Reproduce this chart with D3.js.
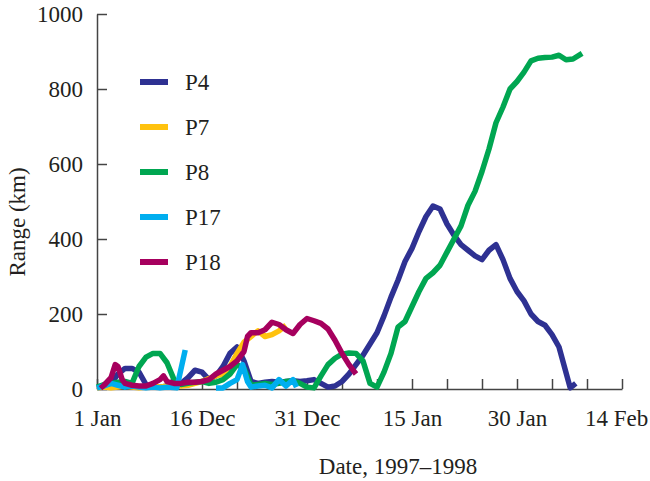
<!DOCTYPE html>
<html>
<head>
<meta charset="utf-8">
<script src="https://cdn.jsdelivr.net/npm/d3@7"></script>
<style>
  body { margin: 0; background: #fff; }
  svg text { font-family: "Liberation Serif", "Times New Roman", serif; fill: #231f20; }
</style>
</head>
<body>
<svg id="chart"></svg>
<script>
// x values are days counted from the first tick on the date axis
const xTickValues = [0, 15, 30, 45, 60, 75];
const xTickLabels = ["1 Jan", "16 Dec", "31 Dec", "15 Jan", "30 Jan", "14 Feb"];
const yTickValues = [0, 200, 400, 600, 800, 1000];

const seriesNames = ["P4", "P7", "P8", "P17", "P18"];
const seriesColors = ["#2e3192", "#ffc20e", "#00a651", "#00aeef", "#a6005e"];

// [day, range km]
const p4 = [
  [2, 15], [3, 40], [4, 55], [5, 55], [6, 45], [7, 12], [8, 5], [9, 5], [10, 8],
  [11, 10], [12, 15], [13, 30], [14, 50], [15, 45], [16, 25], [17, 35], [18, 60],
  [19, 95], [20, 112], [21, 75], [22, 20], [23, 15], [24, 18], [25, 20], [26, 18],
  [27, 20], [28, 22], [29, 20], [30, 22], [31, 25], [32, 15], [33, 5], [34, 8],
  [35, 20], [36, 40], [37, 65], [38, 90], [39, 120], [40, 150], [41, 195], [42, 245],
  [43, 290], [44, 340], [45, 375], [46, 420], [47, 460], [48, 488], [49, 480],
  [50, 440], [51, 410], [52, 385], [53, 370], [54, 355], [55, 345], [56, 370],
  [57, 385], [58, 345], [59, 295], [60, 260], [61, 235], [62, 200], [63, 180],
  [64, 170], [65, 145], [66, 112], [67.6, 3], [68.4, 15]
];

const p7 = [
  [0, 3], [1, 5], [2, 3], [3, 5], [4, 8], [5, 5], [6, 3], [7, 5], [8, 8], [9, 5],
  [10, 8], [11, 10], [12, 8], [13, 10], [14, 15], [15, 20], [16, 28], [17, 35],
  [18, 40], [19, 60], [20, 95], [21, 125], [22, 140], [23, 155], [24, 140],
  [25, 145], [26, 155], [27, 170]
];

const p8 = [
  [0, 5], [1, 12], [2, 15], [3, 18], [4, 20], [5, 15], [6, 60], [7, 85], [8, 95],
  [9, 95], [10, 70], [11, 25], [12, 12], [13, 15], [14, 18], [15, 20], [16, 15],
  [17, 18], [18, 25], [19, 40], [20, 65], [21, 55], [22, 10], [23, 12], [24, 15],
  [25, 12], [26, 15], [27, 20], [28, 22], [29, 15], [30, 5], [31, 3], [32, 35],
  [33, 65], [34, 82], [35, 93], [36, 96], [37, 95], [38, 75], [39, 15], [40, 5],
  [41, 45], [42, 95], [43, 165], [44, 180], [45, 220], [46, 260], [47, 295],
  [48, 310], [49, 330], [50, 365], [51, 400], [52, 435], [53, 490], [54, 527],
  [55, 580], [56, 640], [57, 710], [58, 752], [59, 800], [60, 820], [61, 845],
  [62, 875], [63, 882], [64, 884], [65, 885], [66, 890], [67, 878], [68, 880],
  [69.3, 895]
];

// null marks the break after the spike
const p17 = [
  [0, 3], [1, 8], [2, 15], [3, 10], [4, 5], [5, 8], [6, 5], [7, 3], [8, 5], [9, 3],
  [10, 5], [11.4, 3], [12.6, 104], [13, null],
  [17, 3], [18, 3], [19, 15], [20, 25], [20.8, 65], [21.5, 20], [22, 5], [23, 8],
  [24, 10], [25, 3], [26, 25], [27, 8], [28, 25], [28.5, 5]
];

const p18 = [
  [0.5, 2], [1, 10], [2, 30], [2.6, 65], [3, 60], [3.6, 25], [4, 15], [5, 10],
  [6, 8], [7, 8], [8, 15], [9, 25], [9.5, 35], [10, 20], [11, 15], [12, 15],
  [13, 18], [14, 18], [15, 20], [16, 25], [17, 40], [18, 50], [19, 60], [20, 75],
  [21, 100], [21.5, 140], [22, 150], [23, 150], [24, 158], [25, 178], [26, 172],
  [27, 158], [28, 148], [29, 172], [30, 188], [31, 182], [32, 175], [33, 160],
  [34, 130], [35, 95], [36, 65], [37, 40]
];

const seriesData = [p4, p7, p8, p17, p18];
// drawing order, back to front
const drawOrder = [0, 1, 2, 3, 4];

const width = 650;
const height = 481;
const fontSize = "23px";

const xScale = d3.scaleLinear().domain([0, 75]).range([97, 622]);
const yScale = d3.scaleLinear().domain([0, 1000]).range([389, 14]);

const svg = d3.select("#chart").attr("width", width).attr("height", height);

// Axes
const xAxis = d3.axisBottom(xScale)
  .tickValues(d3.range(0, 76, 5))
  .tickSize(-10)
  .tickSizeOuter(0)
  .tickPadding(21)
  .tickFormat((d) => (xTickValues.includes(d) ? xTickLabels[xTickValues.indexOf(d)] : ""));

const yAxis = d3.axisLeft(yScale)
  .tickValues(yTickValues)
  .tickSize(-10)
  .tickSizeOuter(0)
  .tickPadding(14)
  .tickFormat(d3.format("d"));

const gx = svg.append("g")
  .attr("transform", `translate(0, ${yScale(0)})`)
  .call(xAxis);

const gy = svg.append("g")
  .attr("transform", `translate(${xScale(0)}, 0)`)
  .call(yAxis);

[gx, gy].forEach((g) => {
  g.selectAll("path, line").attr("stroke", "#444").attr("stroke-width", 1.5);
  g.selectAll("text")
    .style("font-family", "'Liberation Serif', serif")
    .style("font-size", fontSize)
    .attr("fill", "#231f20");
});

// last date label sits a bit left so it stays inside the page
gx.selectAll(".tick text").filter((d) => d === 75).attr("dx", "-6px");

// Series lines
const line = d3.line()
  .defined((d) => d[1] !== null)
  .x((d) => xScale(d[0]))
  .y((d) => yScale(d[1]));

drawOrder.forEach((i) => {
  svg.append("path")
    .datum(seriesData[i])
    .attr("fill", "none")
    .attr("stroke", seriesColors[i])
    .attr("stroke-width", 5.5)
    .attr("stroke-linejoin", "round")
    .attr("d", line);
});

// Legend
const legend = svg.append("g");
seriesNames.forEach((name, i) => {
  const y = 82 + i * 45;
  legend.append("line")
    .attr("x1", 140).attr("x2", 168)
    .attr("y1", y).attr("y2", y)
    .attr("stroke", seriesColors[i])
    .attr("stroke-width", 6);
  legend.append("text")
    .attr("x", 185)
    .attr("y", y + 8)
    .style("font-size", fontSize)
    .text(name);
});

// Axis titles
svg.append("text")
  .attr("x", 398)
  .attr("y", 474)
  .style("text-anchor", "middle")
  .style("font-size", fontSize)
  .text("Date, 1997\u20131998");

svg.append("text")
  .attr("transform", "translate(25, 222) rotate(-90)")
  .style("text-anchor", "middle")
  .style("font-size", fontSize)
  .text("Range (km)");
</script>
</body>
</html>
